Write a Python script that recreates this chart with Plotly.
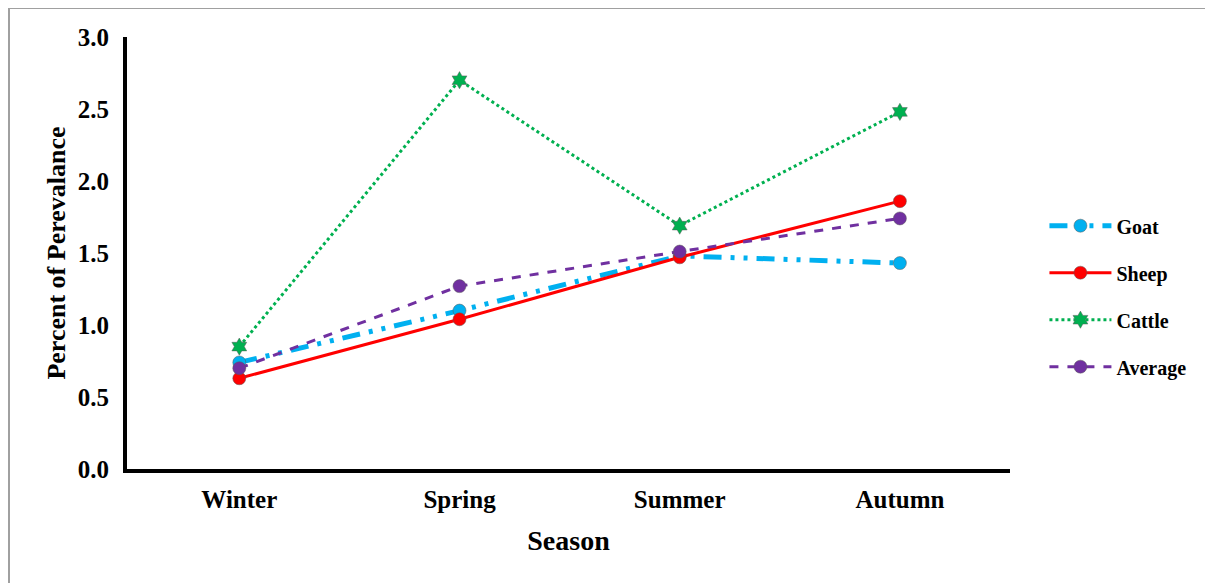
import plotly.graph_objects as go

seasons = ["Winter", "Spring", "Summer", "Autumn"]
goat = [0.74, 1.10, 1.48, 1.43]
sheep = [0.63, 1.04, 1.47, 1.86]
cattle = [0.85, 2.70, 1.69, 2.48]
average = [0.70, 1.27, 1.51, 1.74]
y_ticks = [0.0, 0.5, 1.0, 1.5, 2.0, 2.5, 3.0]

FONT = "Liberation Serif"

fig = go.Figure()
series = [
    ("Goat", goat, "#00B0F0", dict(width=5, dash="18px,9px,4px,9px,4px,9px"), "circle", 13),
    ("Sheep", sheep, "#FF0000", dict(width=3, dash="solid"), "circle", 13),
    ("Cattle", cattle, "#00B050", dict(width=3, dash="dot"), "hexagram", 13),
    ("Average", average, "#7030A0", dict(width=3, dash="dash"), "circle", 13),
]
for i, (name, vals, col, line, sym, sz) in enumerate(series):
    fig.add_trace(go.Scatter(
        x=seasons, y=vals, name=name, mode="lines+markers",
        line=dict(color=col, **line),
        marker=dict(color=col, symbol=sym, size=sz,
                    line=dict(color="rgba(90,90,90,0.5)", width=1)),
        legendgroup=f"g{i}",
    ))

# page body has an 8px margin; figure is sized/offset to compensate
OFF = 8
W, H = 1213 - OFF, 583 - OFF
L, T = 127 - OFF, 37 - OFF
PW, PH = 883, 432

fig.update_layout(
    width=W, height=H,
    margin=dict(l=L, r=W - L - PW, t=T, b=H - T - PH),
    paper_bgcolor="white", plot_bgcolor="white",
    font=dict(family=FONT, color="black"),
    legend=dict(
        x=1.039, y=0.40, xanchor="left", yanchor="middle",
        font=dict(family=FONT, size=20, color="black", weight="bold"),
        tracegroupgap=18, itemwidth=62, bgcolor="rgba(0,0,0,0)",
    ),
    xaxis=dict(
        range=[-0.51, 3.5], showgrid=False, zeroline=False,
        showline=True, linecolor="black", linewidth=4,
        ticks="", ticklabelstandoff=5,
        tickfont=dict(family=FONT, size=25, weight="bold"),
        title=dict(text="Season", font=dict(family=FONT, size=28, weight="bold"), standoff=19),
    ),
    yaxis=dict(
        range=[0, 3.0], tickvals=y_ticks, ticktext=[f"{v:.1f}" for v in y_ticks],
        showgrid=False, zeroline=False,
        showline=True, linecolor="black", linewidth=4,
        ticks="", ticklabelstandoff=9,
        tickfont=dict(family=FONT, size=25, weight="bold"),
        title=dict(text="Percent of Perevalance", font=dict(family=FONT, size=26, weight="bold"), standoff=6),
    ),
    shapes=[
        dict(type="line", xref="paper", yref="paper",
             x0=(9 - 127) / PW, x1=(9 - 127) / PW, y0=(469 - 8) / PH, y1=-0.4,
             line=dict(color="#A0A0A0", width=2)),
        dict(type="line", xref="paper", yref="paper",
             x0=(9 - 127) / PW, x1=1.3, y0=(469 - 8) / PH, y1=(469 - 8) / PH,
             line=dict(color="#A0A0A0", width=2)),
    ],
)

fig.write_html("out.html")
